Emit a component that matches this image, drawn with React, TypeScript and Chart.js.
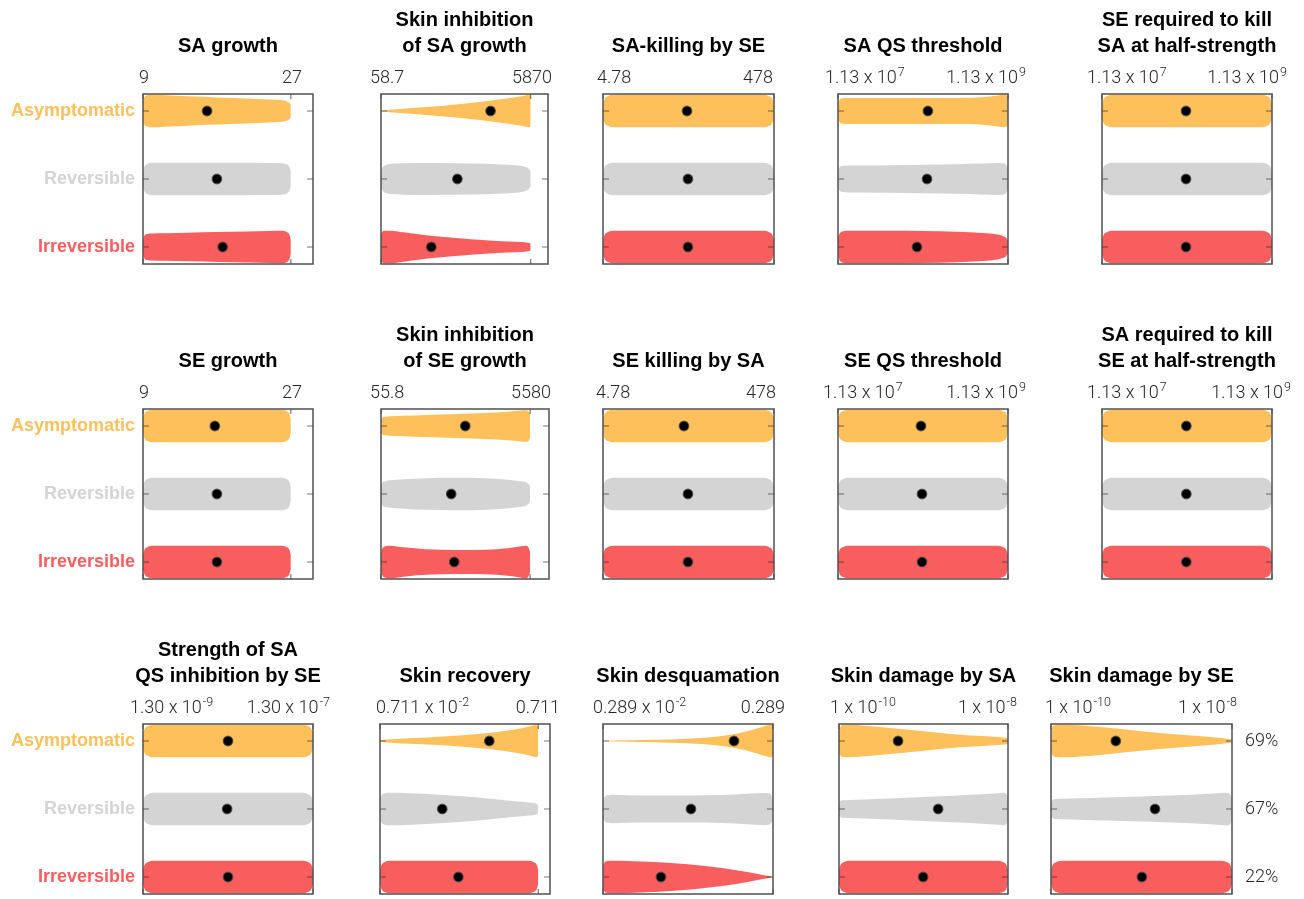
import React, { useEffect, useRef } from 'react';
import { Chart, registerables } from 'chart.js';

Chart.register(...registerables);

// ---- outcome groups ----
const GROUPS = ['Asymptomatic', 'Reversible', 'Irreversible'];
const GROUP_COLORS = ['#FDC05B', '#D4D4D4', '#F95E5E'];
const OUTCOME_SHARE = [69, 67, 22];

// ---- parameter titles (one row of panels each) ----
const SA_TITLES = [['SA growth'], ['Skin inhibition', 'of SA growth'], ['SA-killing by SE'], ['SA QS threshold'], ['SE required to kill', 'SA at half-strength']];
const SE_TITLES = [['SE growth'], ['Skin inhibition', 'of SE growth'], ['SE killing by SA'], ['SE QS threshold'], ['SA required to kill', 'SE at half-strength']];
const SKIN_TITLES = [['Strength of SA', 'QS inhibition by SE'], ['Skin recovery'], ['Skin desquamation'], ['Skin damage by SA'], ['Skin damage by SE']];

// ---- sampled parameter ranges [low, high] ----
const SA_RANGE = [[9, 27], [58.7, 5870], [4.78, 478], [1.13e7, 1.13e9], [1.13e7, 1.13e9]];
const SE_RANGE = [[9, 27], [55.8, 5580], [4.78, 478], [1.13e7, 1.13e9], [1.13e7, 1.13e9]];
const SKIN_RANGE = [[1.3e-9, 1.3e-7], [0.711e-2, 0.711], [0.289e-2, 0.289], [1e-10, 1e-8], [1e-10, 1e-8]];

// ---- axis upper limits ----
const SA_AXIS_END = [29.7, 1e4, 478, 1.13e9, 1.13e9];
const SE_AXIS_END = [29.7, 1e4, 478, 1.13e9, 1.13e9];
const SKIN_AXIS_END = [1.3e-7, 1, 0.289, 1e-8, 1e-8];

// growth rates are sampled linearly, everything else on a log scale
const SA_LINEAR = [true, false, false, false, false];
const SE_LINEAR = [true, false, false, false, false];
const SKIN_LINEAR = [false, false, false, false, false];

// ---- range labels ('^' starts the exponent) ----
const SA_TICK_LABELS = [['9', '27'], ['58.7', '5870'], ['4.78', '478'], ['1.13 x 10^7', '1.13 x 10^9'], ['1.13 x 10^7', '1.13 x 10^9']];
const SE_TICK_LABELS = [['9', '27'], ['55.8', '5580'], ['4.78', '478'], ['1.13 x 10^7', '1.13 x 10^9'], ['1.13 x 10^7', '1.13 x 10^9']];
const SKIN_TICK_LABELS = [['1.30 x 10^-9', '1.30 x 10^-7'], ['0.711 x 10^-2', '0.711'], ['0.289 x 10^-2', '0.289'], ['1 x 10^-10', '1 x 10^-8'], ['1 x 10^-10', '1 x 10^-8']];

// ---- medians per group (Asymptomatic, Reversible, Irreversible) ----
const SA_MEDIANS = [[16.8, 18.0, 18.7], [1708, 615, 276], [45.9, 47.1, 47.1], [1.29e8, 1.26e8, 9.6e7], [1.1e8, 1.1e8, 1.1e8]];
const SE_MEDIANS = [[17.75, 18.0, 18.0], [753, 488, 536], [42.3, 47.1, 47.1], [1.07e8, 1.1e8, 1.1e8], [1.11e8, 1.11e8, 1.11e8]];
const SKIN_MEDIANS = [[1.3e-8, 1.27e-8, 1.3e-8], [0.171, 0.0435, 0.0695], [0.1005, 0.0313, 0.0139], [5.0e-10, 1.49e-9, 9.9e-10], [5.2e-10, 1.41e-9, 1.01e-9]];

// ---- violin densities: relative half-width at fractions of the sampled range ----
const DENSITY_GRID = [0, 0.01, 0.03, 0.06, 0.15, 0.3, 0.5, 0.7, 0.85, 0.94, 0.97, 0.99, 1];
const EVEN = [0.45, 0.75, 0.92, 1, 1, 1, 1, 1, 1, 1, 0.92, 0.75, 0.45];

const SA_DENSITY = [
  [
    [0.6, 0.85, 0.96, 1.0, 0.96, 0.9, 0.83, 0.76, 0.7, 0.66, 0.6, 0.5, 0.4],
    [0.45, 0.75, 0.92, 1.0, 1.0, 1.0, 0.99, 0.99, 0.98, 0.97, 0.9, 0.74, 0.45],
    [0.45, 0.7, 0.8, 0.83, 0.85, 0.88, 0.92, 0.95, 0.98, 1.0, 0.93, 0.76, 0.45],
  ],
  [
    [0.02, 0.03, 0.05, 0.08, 0.14, 0.24, 0.4, 0.6, 0.78, 0.9, 0.97, 1.0, 0.9],
    [0.45, 0.7, 0.85, 0.92, 0.96, 0.98, 0.97, 0.94, 0.88, 0.8, 0.72, 0.6, 0.45],
    [0.75, 0.95, 1.0, 1.0, 0.9, 0.72, 0.55, 0.42, 0.34, 0.3, 0.28, 0.25, 0.2],
  ],
  [EVEN, EVEN, EVEN],
  [
    [0.5, 0.7, 0.78, 0.8, 0.8, 0.79, 0.79, 0.8, 0.84, 0.95, 1.0, 0.97, 0.85],
    [0.5, 0.72, 0.8, 0.82, 0.83, 0.85, 0.88, 0.91, 0.95, 0.98, 0.96, 0.85, 0.6],
    [0.55, 0.82, 0.96, 1.0, 1.0, 1.0, 0.98, 0.94, 0.86, 0.76, 0.68, 0.55, 0.4],
  ],
  [EVEN, EVEN, EVEN],
];

const SE_DENSITY = [
  [EVEN, EVEN, EVEN],
  [
    [0.4, 0.52, 0.57, 0.6, 0.63, 0.68, 0.74, 0.8, 0.88, 0.95, 0.97, 0.9, 0.7],
    [0.5, 0.7, 0.8, 0.84, 0.9, 0.97, 1.0, 0.97, 0.88, 0.78, 0.72, 0.6, 0.45],
    [0.6, 0.85, 0.97, 1.0, 0.9, 0.78, 0.73, 0.75, 0.85, 0.96, 1.0, 0.88, 0.6],
  ],
  [EVEN, EVEN, EVEN],
  [EVEN, EVEN, EVEN],
  [EVEN, EVEN, EVEN],
];

const SKIN_DENSITY = [
  [EVEN, EVEN, EVEN],
  [
    [0.05, 0.06, 0.08, 0.1, 0.15, 0.22, 0.33, 0.5, 0.7, 0.88, 0.97, 1.0, 0.85],
    [0.6, 0.85, 0.97, 1.0, 0.98, 0.92, 0.8, 0.63, 0.48, 0.4, 0.36, 0.3, 0.2],
    EVEN,
  ],
  [
    [0.02, 0.02, 0.02, 0.03, 0.04, 0.07, 0.14, 0.3, 0.6, 0.88, 0.96, 1.0, 0.9],
    [0.5, 0.75, 0.85, 0.87, 0.85, 0.83, 0.83, 0.86, 0.93, 0.98, 0.97, 0.85, 0.55],
    [0.7, 0.9, 0.98, 1.0, 0.98, 0.92, 0.78, 0.55, 0.3, 0.12, 0.07, 0.03, 0.0],
  ],
  [
    [0.7, 0.9, 0.98, 1.0, 0.94, 0.8, 0.6, 0.4, 0.3, 0.25, 0.22, 0.2, 0.15],
    [0.42, 0.5, 0.53, 0.55, 0.58, 0.65, 0.74, 0.83, 0.9, 0.97, 1.0, 0.92, 0.65],
    EVEN,
  ],
  [
    [0.65, 0.9, 0.98, 1.0, 0.96, 0.82, 0.6, 0.4, 0.27, 0.18, 0.14, 0.1, 0.06],
    [0.42, 0.56, 0.61, 0.63, 0.66, 0.71, 0.77, 0.84, 0.92, 0.98, 1.0, 0.9, 0.6],
    EVEN,
  ],
];

// ---- page layout ----
const PAGE_W = 1304;
const PAGE_H = 899;
const ROW_TOP = [94, 409, 724];
const BOX_H = 170;
const BOX_X = [
  [[143, 313], [381, 548], [603, 774], [838, 1008], [1102, 1272]],
  [[143, 313], [381, 549], [603, 774], [838, 1008], [1102, 1272]],
  [[143, 313], [380, 550], [603, 773], [839, 1008], [1051, 1232]],
];
// [left label's left edge, right label's right edge], relative to the frame sides
const LABEL_EDGE = [
  [[-4, -11], [-11, 4], [-6, -1], [-13, 18], [-15, 15]],
  [[-4, -11], [-11, 2], [-7, 2], [-15, 18], [-15, 19]],
  [[-13, 17], [-4, 10], [-10, 12], [-9, 9], [-6, 5]],
];
const PAD_TOP = 100;
const PAD_BOTTOM = 6;
const SIDE = 40;
const HALF_WIDTH = 0.24; // widest violin half-width in row units

const TITLE_FONT = 'bold 20px "Liberation Sans", Arial, Helvetica, sans-serif';
const LABEL_FAMILY = 'Roboto, "Liberation Sans", Arial, sans-serif';

type Panel = {
  titles: string[];
  range: number[];
  axisEnd: number;
  linear: boolean;
  tickLabels: string[];
  medians: number[];
  density: number[][];
  box: number[];
  top: number;
  edge: number[];
  showGroups: boolean;
  showShare: boolean;
};

const ROWS = [
  { titles: SA_TITLES, range: SA_RANGE, end: SA_AXIS_END, linear: SA_LINEAR, labels: SA_TICK_LABELS, medians: SA_MEDIANS, density: SA_DENSITY },
  { titles: SE_TITLES, range: SE_RANGE, end: SE_AXIS_END, linear: SE_LINEAR, labels: SE_TICK_LABELS, medians: SE_MEDIANS, density: SE_DENSITY },
  { titles: SKIN_TITLES, range: SKIN_RANGE, end: SKIN_AXIS_END, linear: SKIN_LINEAR, labels: SKIN_TICK_LABELS, medians: SKIN_MEDIANS, density: SKIN_DENSITY },
];

const PANELS: Panel[] = [];
ROWS.forEach((r, ri) => {
  r.titles.forEach((t, ci) => {
    PANELS.push({
      titles: t,
      range: r.range[ci],
      axisEnd: r.end[ci],
      linear: r.linear[ci],
      tickLabels: r.labels[ci],
      medians: r.medians[ci],
      density: r.density[ci],
      box: BOX_X[ri][ci],
      top: ROW_TOP[ri],
      edge: LABEL_EDGE[ri][ci],
      showGroups: ci === 0,
      showShare: ri === 2 && ci === 4,
    });
  });
});

function geometry(p: Panel) {
  const left = p.showGroups ? 0 : p.box[0] - SIDE;
  const right = p.showShare ? PAGE_W : p.box[1] + SIDE;
  return { left, top: p.top - PAD_TOP, w: right - left, h: PAD_TOP + BOX_H + PAD_BOTTOM };
}

// range label with an optional raised exponent
function drawRangeLabel(ctx: CanvasRenderingContext2D, text: string, x: number, y: number, anchor: 'left' | 'right') {
  const [base, sup] = text.split('^');
  const baseFont = `300 18px ${LABEL_FAMILY}`;
  const supFont = `300 12.5px ${LABEL_FAMILY}`;
  ctx.font = baseFont;
  const wb = ctx.measureText(base).width;
  ctx.font = supFont;
  const ws = sup ? ctx.measureText(sup).width + 1 : 0;
  const x0 = anchor === 'left' ? x : x - wb - ws;
  ctx.textAlign = 'left';
  ctx.textBaseline = 'alphabetic';
  ctx.font = baseFont;
  ctx.fillText(base, x0, y);
  if (sup) {
    ctx.font = supFont;
    ctx.fillText(sup, x0 + wb + 1, y - 7);
  }
}

const panelFrame = {
  id: 'panelFrame',
  afterDatasetsDraw(chart: any, _args: any, opts: any) {
    const { ctx, chartArea: a, scales } = chart;
    ctx.save();
    // inner tick marks
    ctx.strokeStyle = 'rgba(30,30,30,0.6)';
    ctx.lineWidth = 1.2;
    ctx.beginPath();
    [1, 2, 3].forEach((v) => {
      const y = scales.y.getPixelForValue(v);
      ctx.moveTo(a.left, y);
      ctx.lineTo(a.left + 6, y);
      ctx.moveTo(a.right - 6, y);
      ctx.lineTo(a.right, y);
    });
    (opts.range as number[]).forEach((v) => {
      const x = scales.x.getPixelForValue(v);
      ctx.moveTo(x, a.top);
      ctx.lineTo(x, a.top + 5);
      ctx.moveTo(x, a.bottom);
      ctx.lineTo(x, a.bottom - 5);
    });
    ctx.stroke();
    // frame
    ctx.strokeStyle = '#505050';
    ctx.lineWidth = 1.5;
    ctx.strokeRect(a.left, a.top, a.right - a.left, a.bottom - a.top);
    // title
    const lines: string[] = opts.titles;
    ctx.fillStyle = '#000';
    ctx.font = TITLE_FONT;
    ctx.textAlign = 'center';
    ctx.textBaseline = 'alphabetic';
    const cx = (a.left + a.right) / 2;
    lines.forEach((t, i) => {
      ctx.fillText(t, cx, a.top - 42 - (lines.length - 1 - i) * 26);
    });
    // range labels
    ctx.fillStyle = '#262626';
    const yl = a.top - 11;
    drawRangeLabel(ctx, opts.tickLabels[0], a.left + opts.edge[0], yl, 'left');
    drawRangeLabel(ctx, opts.tickLabels[1], a.right + opts.edge[1], yl, 'right');
    ctx.restore();
  },
};

function buildConfig(p: Panel): any {
  const [lo, hi] = p.range;
  const xs = DENSITY_GRID.map((t) => (p.linear ? lo + (hi - lo) * t : lo * Math.pow(hi / lo, t)));
  const datasets: any[] = [];
  GROUPS.forEach((_g, gi) => {
    const yc = gi + 1;
    const w = p.density[gi];
    const common = {
      type: 'line',
      borderWidth: 0,
      borderColor: 'rgba(0,0,0,0)',
      backgroundColor: GROUP_COLORS[gi],
      pointRadius: 0,
      pointHoverRadius: 0,
      cubicInterpolationMode: 'monotone',
      order: 2,
    };
    datasets.push({ ...common, data: xs.map((x, i) => ({ x, y: yc - w[i] * HALF_WIDTH })), fill: false });
    datasets.push({ ...common, data: xs.map((x, i) => ({ x, y: yc + w[i] * HALF_WIDTH })), fill: '-1' });
  });
  datasets.push({
    type: 'scatter',
    data: p.medians.map((m, gi) => ({ x: m, y: gi + 1 })),
    pointRadius: 4.8,
    pointHoverRadius: 4.8,
    backgroundColor: '#000',
    borderColor: 'rgba(70,70,70,0.8)',
    borderWidth: 1.2,
    order: 0,
  });

  const rowTicks = (s: any) => {
    s.ticks = [1, 2, 3].map((v) => ({ value: v }));
  };
  // the row labels must not shrink the plotting area
  const fixWidth = (w: number) => (s: any) => {
    s.width = w;
    s.paddingTop = 0;
    s.paddingBottom = 0;
  };
  const yBase = {
    min: 0.75,
    max: 3.25,
    reverse: true,
    afterBuildTicks: rowTicks,
    grid: { display: false, drawTicks: false, tickLength: 0 },
    border: { display: false },
  };

  return {
    type: 'line',
    data: { datasets },
    plugins: [panelFrame],
    options: {
      responsive: false,
      maintainAspectRatio: false,
      animation: false,
      devicePixelRatio: 1,
      events: [],
      layout: {
        padding: {
          top: PAD_TOP,
          bottom: PAD_BOTTOM,
          left: p.showGroups ? 0 : SIDE,
          right: p.showShare ? 0 : SIDE,
        },
      },
      scales: {
        x: {
          type: p.linear ? 'linear' : 'logarithmic',
          min: lo,
          max: p.axisEnd,
          display: false,
        },
        y: {
          ...yBase,
          position: 'left',
          display: p.showGroups,
          afterFit: p.showGroups ? fixWidth(p.box[0]) : undefined,
          ticks: {
            autoSkip: false,
            padding: 8,
            font: { family: '"Liberation Sans", Arial, sans-serif', size: 18, weight: 'bold' },
            color: (c: any) => GROUP_COLORS[(c.tick ? c.tick.value : c.index + 1) - 1],
            callback: (v: any) => GROUPS[Number(v) - 1] ?? '',
          },
        },
        y2: {
          ...yBase,
          position: 'right',
          display: p.showShare,
          afterFit: p.showShare ? fixWidth(PAGE_W - p.box[1]) : undefined,
          ticks: {
            autoSkip: false,
            padding: 13,
            font: { family: LABEL_FAMILY, size: 18, weight: '300' },
            color: '#262626',
            callback: (v: any) => {
              const s = OUTCOME_SHARE[Number(v) - 1];
              return s === undefined ? '' : `${s}%`;
            },
          },
        },
      },
      plugins: {
        legend: { display: false },
        tooltip: { enabled: false },
        title: { display: false },
        panelFrame: { titles: p.titles, tickLabels: p.tickLabels, range: p.range, edge: p.edge },
      },
    },
  };
}

export default function App() {
  const refs = useRef<(HTMLCanvasElement | null)[]>([]);

  useEffect(() => {
    const charts = PANELS.map((p, i) => new Chart(refs.current[i] as HTMLCanvasElement, buildConfig(p)));
    return () => {
      charts.forEach((c) => c.destroy());
    };
  }, []);

  return (
    <div
      style={{
        position: 'absolute',
        left: 0,
        top: 0,
        width: PAGE_W,
        height: PAGE_H,
        background: '#ffffff',
        overflow: 'hidden',
      }}
    >
      {PANELS.map((p, i) => {
        const g = geometry(p);
        return (
          <canvas
            key={i}
            ref={(el) => {
              refs.current[i] = el;
            }}
            width={g.w}
            height={g.h}
            style={{ position: 'absolute', left: g.left, top: g.top, width: g.w, height: g.h }}
          />
        );
      })}
    </div>
  );
}
